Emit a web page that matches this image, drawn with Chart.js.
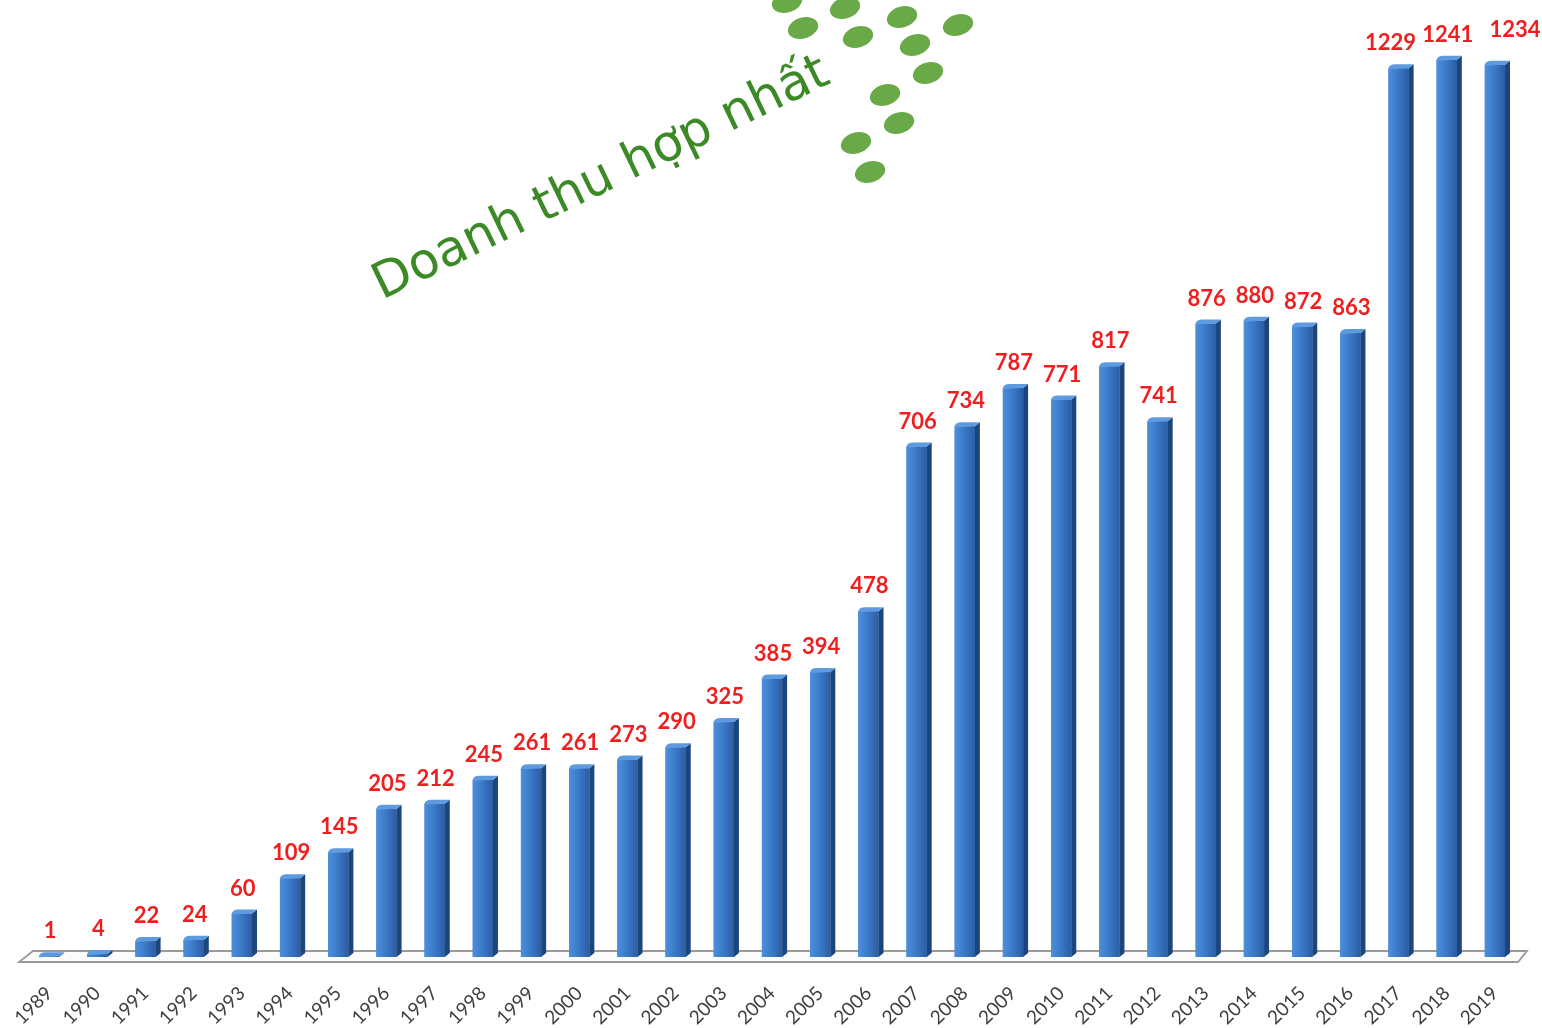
<!DOCTYPE html>
<html>
<head>
<meta charset="utf-8">
<script src="https://cdn.jsdelivr.net/npm/chart.js@4.4.1/dist/chart.umd.min.js"></script>
<style>
  html, body { margin: 0; padding: 0; background: #ffffff; }
  #wrap { position: relative; width: 1542px; height: 1028px; }
</style>
</head>
<body>
<div id="wrap"><canvas id="c" width="1542" height="1028"></canvas></div>
<script>
const years = ["1989","1990","1991","1992","1993","1994","1995","1996","1997","1998","1999","2000","2001","2002","2003","2004","2005","2006","2007","2008","2009","2010","2011","2012","2013","2014","2015","2016","2017","2018","2019"];
const revenue = [1,4,22,24,60,109,145,205,212,245,261,261,273,290,325,385,394,478,706,734,787,771,817,741,876,880,872,863,1229,1241,1234];
const chartTitle = "Doanh thu hợp nhất";

const FRONT_L = '#4d8fdc', FRONT_M = '#3a78c6', FRONT_R = '#2a5da3', SIDE = '#1c457e', TOP = '#5e9ae0';
// manual label nudges (pixels) used in the original for crowded labels
const labelNudge = { 28: [-9, 0], 30: [19, -10] };

const floorPlugin = {
  id: 'floor',
  beforeDatasetsDraw(chart) {
    const ctx = chart.ctx, a = chart.chartArea;
    const y = a.bottom;
    ctx.save();
    ctx.beginPath();
    ctx.moveTo(a.left + 8, y - 6);
    ctx.lineTo(a.right + 8, y - 6);
    ctx.lineTo(a.right - 1, y + 5);
    ctx.lineTo(a.left - 6, y + 5);
    ctx.closePath();
    ctx.fillStyle = '#fbfbfb';
    ctx.fill();
    ctx.strokeStyle = '#9a9a9a';
    ctx.lineWidth = 1.8;
    ctx.stroke();
    ctx.restore();
  }
};

const bar3dPlugin = {
  id: 'bar3d',
  afterDatasetsDraw(chart) {
    const ctx = chart.ctx;
    const meta = chart.getDatasetMeta(0);
    const d = 5, h = 4;
    ctx.save();
    meta.data.forEach((bar) => {
      const w = bar.width;
      const x0 = bar.x - w / 2, x1 = bar.x + w / 2;
      const top = bar.y, base = bar.base;
      const g = ctx.createLinearGradient(x0, 0, x1, 0);
      g.addColorStop(0, FRONT_L);
      g.addColorStop(0.5, FRONT_M);
      g.addColorStop(1, FRONT_R);
      ctx.fillStyle = g;
      ctx.fillRect(x0, top, w, base - top);
      ctx.beginPath();
      ctx.moveTo(x1, top);
      ctx.lineTo(x1 + d, top - h);
      ctx.lineTo(x1 + d, base - h);
      ctx.lineTo(x1, base);
      ctx.closePath();
      ctx.fillStyle = SIDE;
      ctx.fill();
      ctx.beginPath();
      ctx.moveTo(x0, top + 1);
      ctx.quadraticCurveTo(x0, top - h, x0 + d + 2, top - h);
      ctx.lineTo(x1 + d, top - h);
      ctx.lineTo(x1, top);
      ctx.closePath();
      ctx.fillStyle = TOP;
      ctx.fill();
    });
    ctx.restore();
  }
};

const labelPlugin = {
  id: 'valueLabels',
  afterDatasetsDraw(chart) {
    const ctx = chart.ctx;
    const meta = chart.getDatasetMeta(0);
    ctx.save();
    ctx.font = 'bold 22px Lato, "Open Sans", sans-serif';
    ctx.fillStyle = '#f01e1e';
    ctx.textAlign = 'center';
    ctx.textBaseline = 'middle';
    meta.data.forEach((bar, i) => {
      const n = labelNudge[i] || [0, 0];
      ctx.fillText(String(revenue[i]), bar.x + 1 + n[0], bar.y - 25 + n[1]);
    });
    ctx.restore();
  }
};

const titlePlugin = {
  id: 'logoTitle',
  afterDraw(chart) {
    const ctx = chart.ctx;
    ctx.save();
    const dots = [[787,2],[845,8],[902,17],[958,25],[803,28],[858,37],[915,45],[928,73],[885,95],[899,123],[856,143],[870,172]];
    ctx.fillStyle = '#6aa948';
    dots.forEach(p => {
      ctx.beginPath();
      ctx.ellipse(p[0], p[1], 15.5, 10.5, -0.3, 0, Math.PI * 2);
      ctx.fill();
    });
    ctx.translate(382, 300);
    ctx.rotate(-0.45);
    ctx.fillStyle = '#3b8a26';
    let size = 52;
    ctx.font = size + 'px "DejaVu Sans", sans-serif';
    const w = ctx.measureText(chartTitle).width;
    size = size * 500 / w;
    ctx.font = size + 'px "DejaVu Sans", sans-serif';
    ctx.textBaseline = 'alphabetic';
    ctx.fillText(chartTitle, 0, 0);
    ctx.restore();
  }
};

new Chart(document.getElementById('c'), {
  type: 'bar',
  data: {
    labels: years,
    datasets: [{
      data: revenue,
      backgroundColor: FRONT_M,
      borderWidth: 0,
      barPercentage: 0.42,
      categoryPercentage: 1.0
    }]
  },
  options: {
    responsive: false,
    animation: false,
    events: [],
    layout: { padding: { left: 25, right: 23, top: 17, bottom: 0 } },
    plugins: { legend: { display: false }, tooltip: { enabled: false }, title: { display: false } },
    scales: {
      y: { display: false, min: 0, max: 1300 },
      x: {
        grid: { display: false, drawTicks: false },
        border: { display: false },
        ticks: {
          minRotation: 45, maxRotation: 45,
          padding: 25,
          color: '#3d3d3d',
          font: { family: 'Lato, "Open Sans", sans-serif', size: 19 }
        },
        afterFit(scale) {
          scale.height = 71;
          scale.paddingLeft = 0;
          scale.paddingRight = 0;
        }
      }
    }
  },
  plugins: [floorPlugin, bar3dPlugin, labelPlugin, titlePlugin]
});
</script>
</body>
</html>
